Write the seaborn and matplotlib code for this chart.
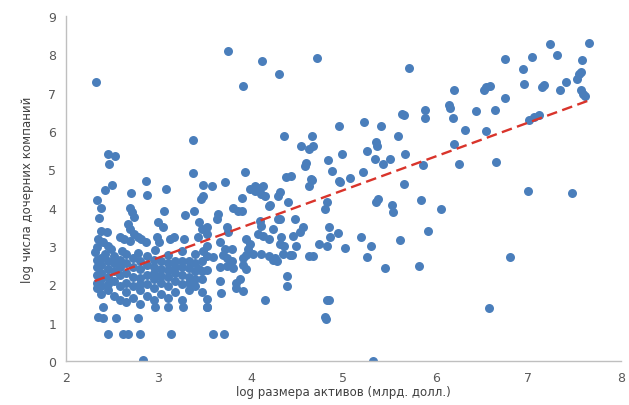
import matplotlib
matplotlib.use("Agg")
import matplotlib.pyplot as plt
import seaborn as sns
import pandas as pd

# ---- data ----
x_outer = [
    2.32, 3.75, 3.91, 4.12, 4.30, 4.71, 5.71, 3.37, 2.45, 2.53, 2.46, 3.37, 3.94, 2.86, 3.72,
    3.48, 3.58, 3.08, 2.50, 2.42, 2.70, 2.88, 3.48, 3.46, 2.33, 2.38, 2.36, 2.69, 2.71, 2.74,
    3.06, 3.38, 3.29, 3.44, 3.52, 2.99, 3.05, 2.67, 2.69, 2.74, 2.78, 2.38, 2.44, 2.35, 2.40,
    2.45, 2.49, 2.58, 2.63, 2.69, 2.81, 2.87, 2.98, 3.01, 3.12, 3.17, 3.28, 3.43, 3.52,
    2.31, 2.42, 2.60, 2.78, 2.96, 3.10, 3.25, 3.39, 3.48,
    2.40, 2.35, 2.40, 2.54, 2.78, 2.45, 2.62, 2.67, 2.80, 3.14, 2.83, 2.96, 3.10, 3.26, 3.52,
]
y_outer = [
    7.27, 8.08, 7.17, 7.84, 7.49, 7.90, 7.64, 5.77, 5.40, 5.34, 5.14, 4.91, 4.93, 4.69, 4.68,
    4.60, 4.58, 4.49, 4.60, 4.46, 4.38, 4.33, 4.30, 4.22, 4.21, 3.99, 3.73, 3.99, 3.88, 3.75,
    3.92, 3.92, 3.81, 3.62, 3.49, 3.62, 3.49, 3.58, 3.45, 3.32, 3.23, 3.40, 3.36, 3.19, 3.10,
    3.01, 2.92, 3.23, 3.19, 3.14, 3.19, 3.10, 3.23, 3.10, 3.19, 3.23, 3.19, 3.23, 3.32,
    2.85, 2.80, 2.88, 2.82, 2.90, 2.78, 2.86, 2.80, 2.88,
    1.40, 1.14, 1.12, 1.12, 1.12, 0.70, 0.70, 0.70, 0.70, 0.70, 0.03, 1.40, 1.40, 1.40, 1.40,
]

x_mid = [
    4.54, 4.63, 4.67, 4.60, 4.58, 4.83, 4.38, 4.43, 4.66, 4.63, 3.99, 4.04, 4.10, 4.13, 4.11,
    4.31, 4.29, 3.90, 4.40, 4.20, 3.81, 3.86, 3.90, 3.64, 3.63, 3.47, 3.74, 3.75, 4.10, 4.11,
    4.31, 4.48, 4.56, 4.53, 4.24, 4.84, 4.86, 4.94, 4.08, 4.13, 4.20, 4.33, 3.95, 3.99, 3.97,
    3.52, 3.66, 3.72, 3.79, 4.49, 4.45, 4.74, 4.82, 4.63, 4.35, 4.42, 4.31, 4.36, 5.02, 5.30,
    5.26, 4.24, 4.28, 5.45, 5.82, 4.39, 4.39, 4.15, 4.84, 4.81, 5.32,
    3.52, 3.59, 3.70, 3.74, 3.79, 3.91, 3.95, 4.02, 4.11, 4.20, 4.26, 4.44, 4.67,
    3.44, 3.52, 3.66, 3.74, 3.81, 3.91, 3.95, 3.66, 3.84, 3.88, 3.84, 3.91, 3.68, 3.52, 3.52,
    4.82, 4.80, 3.59, 3.71,
]
y_mid = [
    5.62, 5.54, 5.61, 5.17, 5.08, 5.25, 4.80, 4.82, 4.73, 4.58, 4.49, 4.45, 4.51, 4.56, 4.36,
    4.40, 4.32, 4.25, 4.14, 4.04, 3.99, 3.92, 3.92, 3.84, 3.71, 3.45, 3.49, 3.36, 3.66, 3.53,
    3.71, 3.70, 3.49, 3.36, 3.45, 3.50, 3.25, 3.34, 3.32, 3.26, 3.19, 3.23, 3.19, 3.05, 2.92,
    3.01, 3.10, 2.92, 2.92, 3.01, 3.27, 3.05, 3.00, 2.75, 2.79, 2.77, 3.05, 3.01, 2.95, 3.00,
    2.71, 2.65, 2.62, 2.42, 2.49, 2.21, 1.95, 1.59, 1.59, 1.11, 0.01,
    2.75, 2.72, 2.78, 2.68, 2.62, 2.68, 2.76, 2.80, 2.79, 2.75, 2.70, 2.78, 2.74,
    2.40, 2.38, 2.45, 2.47, 2.44, 2.52, 2.40, 2.10, 2.05, 2.14, 1.92, 1.84, 1.79, 1.62, 1.40,
    1.59, 1.14, 0.70, 0.70,
]

x_upper = [
    4.95, 5.22, 5.41, 5.59, 4.36, 4.66, 5.25, 5.35, 5.36, 4.98, 5.67, 5.34, 5.50, 5.43, 5.86,
    4.88, 5.21, 4.95, 5.07, 5.66, 4.04, 4.65, 4.96, 4.15, 4.21, 4.82, 4.80, 5.37, 5.35, 5.52,
    5.54, 5.84, 6.05, 4.29, 5.91, 5.61, 5.19, 5.63, 5.66, 5.88, 5.88,
    7.23, 7.66, 7.31, 7.04, 6.75, 7.58, 6.94, 7.55, 7.53, 7.57, 7.41, 6.95, 7.17, 7.15, 7.34,
    6.54, 6.58, 6.52, 6.20, 7.57, 7.59, 7.61, 6.75, 6.14, 6.15, 6.43, 6.64, 6.18, 7.11, 7.06,
    7.01, 6.31, 6.54, 6.20, 6.25, 6.65, 7.00, 7.47, 6.80, 6.57,
]
y_upper = [
    6.13, 6.23, 6.13, 5.86, 5.87, 5.87, 5.49, 5.71, 5.62, 5.40, 5.40, 5.27, 5.27, 5.14, 5.12,
    4.95, 4.94, 4.70, 4.77, 4.62, 4.58, 4.75, 4.67, 4.32, 4.06, 4.14, 3.97, 4.23, 4.14, 4.07,
    3.90, 4.19, 3.96, 3.71, 3.40, 3.17, 3.23, 6.45, 6.42, 6.54, 6.34,
    8.28, 8.29, 7.99, 7.93, 7.88, 7.86, 7.62, 7.49, 7.36, 7.54, 7.29, 7.23, 7.21, 7.15, 7.08,
    7.15, 7.17, 7.08, 7.08, 7.08, 6.97, 6.91, 6.86, 6.67, 6.61, 6.52, 6.55, 6.34, 6.42, 6.36,
    6.30, 6.04, 5.99, 5.67, 5.14, 5.19, 4.45, 4.39, 2.71, 1.38,
]

# dense cluster (x 2.3-3.5, y 1.5-2.9)
x_dense = [
    2.33, 2.33, 2.33, 2.33, 2.33, 2.33,
    2.38, 2.38, 2.38, 2.38, 2.38, 2.38,
    2.45, 2.45, 2.45, 2.45, 2.45,
    2.52, 2.52, 2.52, 2.52, 2.52,
    2.58, 2.58, 2.58, 2.58, 2.58,
    2.65, 2.65, 2.65, 2.65, 2.65, 2.65,
    2.72, 2.72, 2.72, 2.72, 2.72,
    2.80, 2.80, 2.80, 2.80, 2.80, 2.80,
    2.88, 2.88, 2.88, 2.88, 2.88,
    2.95, 2.95, 2.95, 2.95, 2.95, 2.95,
    3.03, 3.03, 3.03, 3.03, 3.03,
    3.10, 3.10, 3.10, 3.10, 3.10,
    3.18, 3.18, 3.18, 3.18, 3.18,
    3.25, 3.25, 3.25, 3.25, 3.25,
    3.33, 3.33, 3.33, 3.33, 3.33,
    3.40, 3.40, 3.40, 3.40,
    3.47, 3.47, 3.47, 3.47,
]
y_dense = [
    2.65, 2.45, 2.25, 2.05, 1.90, 2.98,
    2.70, 2.50, 2.30, 2.15, 1.95, 1.75,
    2.60, 2.40, 2.20, 2.00, 1.85,
    2.75, 2.55, 2.35, 2.10, 1.70,
    2.65, 2.45, 2.25, 1.95, 1.60,
    2.80, 2.55, 2.30, 2.05, 1.80, 1.55,
    2.70, 2.45, 2.20, 1.95, 1.65,
    2.62, 2.40, 2.18, 2.00, 1.85, 1.50,
    2.75, 2.50, 2.25, 2.00, 1.70,
    2.65, 2.45, 2.30, 2.15, 1.90, 1.60,
    2.60, 2.40, 2.22, 2.05, 1.75,
    2.55, 2.38, 2.20, 1.95, 1.65,
    2.62, 2.45, 2.30, 2.10, 1.80,
    2.60, 2.45, 2.25, 2.00, 1.60,
    2.62, 2.42, 2.20, 2.05, 1.85,
    2.55, 2.35, 2.15, 1.95,
    2.60, 2.35, 2.15, 1.80,
]

x_ticks = [2, 3, 4, 5, 6, 7, 8]
y_ticks = [0, 1, 2, 3, 4, 5, 6, 7, 8, 9]
x_label = "log размера активов (млрд. долл.)"
y_label = "log числа дочерних компаний"

# ---- build ----
points = pd.DataFrame({
    "asset": x_outer + x_mid + x_upper + x_dense,
    "subs": y_outer + y_mid + y_upper + y_dense,
})

sns.set_theme(style="white")
plt.rcParams["font.family"] = ["DejaVu Sans"]

fig = plt.figure(figsize=(6.29, 4.06), dpi=100)
ax = fig.add_axes([0.105, 0.108, 0.882, 0.850])

sns.scatterplot(data=points, x="asset", y="subs", ax=ax, color="#4a7ebb", s=42,
                linewidth=0, alpha=1.0, zorder=2)
# linear trend fitted to the points (Excel-style dashed trendline)
sns.regplot(data=points, x="asset", y="subs", ax=ax, scatter=False, ci=None,
            truncate=True, color="#d9342b",
            line_kws={"linewidth": 1.7, "linestyle": (0, (4.5, 2.3)), "zorder": 5})

ax.set_xlim(2, 8)
ax.set_ylim(0, 9)
ax.set_xticks(x_ticks)
ax.set_yticks(y_ticks)
ax.set_xticklabels([str(v) for v in x_ticks])
ax.set_yticklabels([str(v) for v in y_ticks])

for side in ("top", "right"):
    ax.spines[side].set_visible(False)
for side in ("left", "bottom"):
    ax.spines[side].set_color("#bfbfbf")
    ax.spines[side].set_linewidth(1.0)
ax.tick_params(axis="both", which="both", direction="out", length=4, width=1,
               color="#bfbfbf", labelcolor="#595959", labelsize=9, pad=3)
ax.set_xlabel(x_label, fontsize=8.5, color="#404040", labelpad=1)
ax.set_ylabel(y_label, fontsize=8.5, color="#404040", labelpad=10)

fig.savefig("out.png", dpi=100)
